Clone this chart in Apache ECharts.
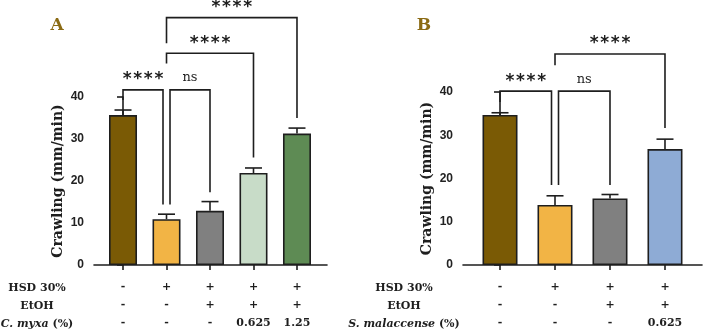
<!DOCTYPE html>
<html><head><meta charset="utf-8">
<script src="https://cdn.jsdelivr.net/npm/echarts@6/dist/echarts.min.js"></script>
<style>html,body{margin:0;padding:0;background:#fff}#c{width:703px;height:332px}</style>
</head><body><div id="c"></div>
<script>
// ---------- data: panel A ----------
const meanA = [35.7, 10.9, 12.9, 21.9, 31.3];
const errA  = [1.2, 1.2, 2.2, 1.2, 1.3];
const hsdA  = ['-', '+', '+', '+', '+'];
const etohA = ['-', '-', '+', '+', '+'];
const extA  = ['-', '-', '-', '0.625', '1.25'];
const rowTitlesA = ['HSD 30%', 'EtOH', '{i|C. myxa} (%)'];
// [fromGroup, toGroup, barHeight, leftLegEnd, rightLegEnd]
const bracketsA = [[0, 1, 41.7, 39.3, 14.4], [1, 2, 41.7, 14.4, 17.3], [1, 3, 50.4, 48.0, 25.6], [1, 4, 58.9, 52.8, 35.0]];
const bracketLabelsA = ['****', 'ns', '****', '****'];
// ---------- data: panel B ----------
const meanB = [34.7, 13.9, 15.4, 26.8];
const errB  = [0.5, 2.1, 0.9, 2.3];
const hsdB  = ['-', '+', '+', '+'];
const etohB = ['-', '-', '+', '+'];
const extB  = ['-', '-', '-', '0.625'];
const rowTitlesB = ['HSD 30%', 'EtOH', '{i|S. malaccense} (%)'];
const bracketsB = [[0, 1, 40.2, 37.7, 18.5], [1, 2, 40.2, 18.5, 18.5], [1, 3, 48.8, 46.2, 31.7]];
const bracketLabelsB = ['****', 'ns', '****'];
const yTicks = [0, 10, 20, 30, 40];

const colorsA = ['#7a5a05', '#f2b445', '#808080', '#c8dcc8', '#5e8b54'];
const colorsB = ['#7a5a05', '#f2b445', '#808080', '#8eabd5'];

const INK = '#1e1e1e';
const SERIF = '"DejaVu Serif", serif';
const SANS = '"Liberation Sans", Arial, sans-serif';

function xAxisFor(gi, n, mn, mx, hsd, etoh, ext) {
  const vals = Array.from({length: n}, (_, i) => i);
  return {
    type: 'value', gridIndex: gi, min: mn, max: mx,
    splitLine: {show: false},
    axisLine: {show: true, onZero: false, lineStyle: {color: INK, width: 1.6}},
    axisTick: {show: true, customValues: vals, length: 5, lineStyle: {color: INK, width: 1.6}},
    axisLabel: {
      show: true, customValues: vals, margin: 13, lineHeight: 18,
      fontFamily: SERIF, fontWeight: 'bold', fontSize: 11, color: INK,
      formatter: v => { const i = Math.round(v); return [hsd[i], etoh[i], ext[i]].join('\n'); }
    }
  };
}
function yAxisFor(gi) {
  return {
    type: 'value', gridIndex: gi, min: 0, max: 40, interval: 10,
    name: 'Crawling (mm/min)', nameLocation: 'middle', nameGap: 29,
    nameTextStyle: {fontFamily: SERIF, fontWeight: 'bold', fontSize: 14, color: INK},
    splitLine: {show: false},
    axisLine: {show: true, lineStyle: {color: INK, width: 1.6}},
    axisTick: {show: true, length: 6, lineStyle: {color: INK, width: 1.6}},
    axisLabel: {margin: 10, fontFamily: SANS, fontWeight: 'bold', fontSize: 12, color: '#222',
      customValues: yTicks}
  };
}
function barSeries(gi, means, colors) {
  return {
    type: 'bar', xAxisIndex: gi, yAxisIndex: gi, barWidth: gi === 0 ? 28 : 35,
    data: means.map((m, i) => ({value: [i, m], itemStyle: {color: colors[i]}})),
    itemStyle: {borderColor: INK, borderWidth: 1.6}, z: 2, silent: true, animation: false
  };
}
function errSeries(gi, means, errs) {
  return {
    type: 'custom', xAxisIndex: gi, yAxisIndex: gi, silent: true, animation: false, z: 1,
    data: means.map((m, i) => [i, m, m + errs[i]]),
    encode: {x: 0, y: [1, 2]},
    renderItem: (p, api) => {
      const b = api.coord([api.value(0), api.value(1)]);
      const t = api.coord([api.value(0), api.value(2)]);
      const cw = 8.5;
      return {type: 'group', children: [
        {type: 'line', shape: {x1: b[0], y1: b[1], x2: t[0], y2: t[1]}, style: {stroke: INK, lineWidth: 1.6}},
        {type: 'line', shape: {x1: t[0] - cw, y1: t[1], x2: t[0] + cw, y2: t[1]}, style: {stroke: INK, lineWidth: 1.6}}
      ]};
    }
  };
}
function bracketSeries(gi, brackets, labels) {
  return {
    type: 'custom', xAxisIndex: gi, yAxisIndex: gi, silent: true, animation: false, clip: false, z: 3,
    data: brackets.map((b, k) => [b[0], b[1], b[2], b[3], b[4], k]),
    encode: {x: [0, 1], y: [2]},
    renderItem: (p, api) => {
      const f = api.value(0), t = api.value(1), top = api.value(2), le = api.value(3), re = api.value(4), k = api.value(5);
      let sl = 0, sr = 0;
      brackets.forEach((o, j) => {
        if (j === k || o[2] !== top) return;
        if (o[1] === f) sl = 3.5;
        if (o[0] === t) sr = -3.5;
      });
      const a = api.coord([f, top]), b = api.coord([t, top]);
      const ae = api.coord([f, le]), be = api.coord([t, re]);
      const xl = a[0] + sl, xr = b[0] + sr;
      const lab = labels[k];
      const isNs = lab === 'ns';
      return {type: 'group', children: [
        {type: 'polyline', shape: {points: [[xl, ae[1]], [xl, a[1]], [xr, a[1]], [xr, be[1]]]},
          style: {stroke: INK, lineWidth: 1.6, fill: null}},
        {type: 'text', x: (xl + xr) / 2, y: a[1] - (isNs ? 12 : 10),
          style: {text: isNs ? lab : lab.split('').join('\u200A'), align: 'center', verticalAlign: 'middle', fill: INK,
            font: isNs ? '13px ' + SERIF : 'bold 17px "DejaVu Sans", sans-serif'}}
      ]};
    }
  };
}
function rowTitles(titles, cx) {
  return titles.map((t, i) => ({
    type: 'text', x: cx, y: 288 + i * 18, silent: true,
    style: {text: t, align: 'center', verticalAlign: 'middle', fill: INK,
      fontFamily: SERIF, fontWeight: 'bold', fontSize: 11,
      rich: {i: {fontFamily: SERIF, fontWeight: 'bold', fontStyle: 'italic', fontSize: 11, fill: INK}}}
  }));
}

const chart = echarts.init(document.getElementById('c'), null, {renderer: 'canvas'});
chart.setOption({
  animation: false,
  backgroundColor: '#fff',
  grid: [
    {left: 94, top: 97, width: 233, height: 169},
    {left: 463, top: 92, width: 239, height: 173}
  ],
  xAxis: [
    xAxisFor(0, 5, -0.667, 4.69, hsdA, etohA, extA),
    xAxisFor(1, 4, -0.673, 3.673, hsdB, etohB, extB)
  ],
  yAxis: [yAxisFor(0), yAxisFor(1)],
  series: [
    errSeries(0, meanA, errA), barSeries(0, meanA, colorsA), bracketSeries(0, bracketsA, bracketLabelsA),
    errSeries(1, meanB, errB), barSeries(1, meanB, colorsB), bracketSeries(1, bracketsB, bracketLabelsB)
  ],
  graphic: [
    {type: 'text', x: 57, y: 26, silent: true, style: {text: 'A', align: 'center', verticalAlign: 'middle',
      font: 'bold 17px ' + SERIF, fill: '#8b6b14'}},
    {type: 'text', x: 424, y: 26, silent: true, style: {text: 'B', align: 'center', verticalAlign: 'middle',
      font: 'bold 17px ' + SERIF, fill: '#8b6b14'}},
    ...rowTitles(rowTitlesA, 37),
    ...rowTitles(rowTitlesB, 404)
  ]
});
</script></body></html>
